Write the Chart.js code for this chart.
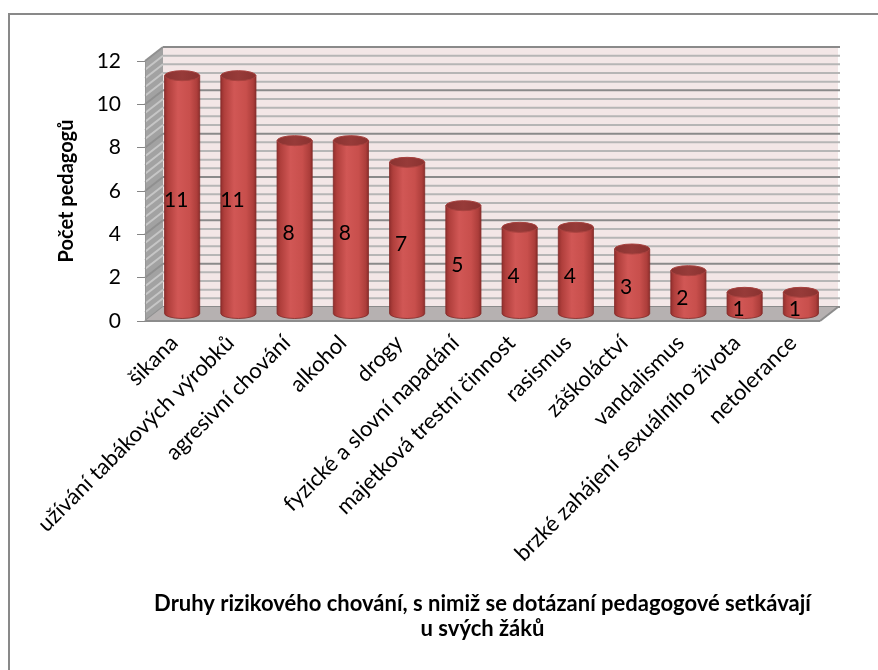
<!DOCTYPE html>
<html>
<head>
<meta charset="utf-8">
<script src="https://cdn.jsdelivr.net/npm/chart.js@4.4.1/dist/chart.umd.min.js"></script>
<style>
  html, body { margin: 0; padding: 0; background: #ffffff; }
  canvas { display: block; }
</style>
</head>
<body>
<canvas id="chart" width="878" height="670"></canvas>
<script>
// Categories of risky behaviour and how many teachers encounter each one
const categories = [
  'šikana',
  'užívání tabákových výrobků',
  'agresivní chování',
  'alkohol',
  'drogy',
  'fyzické a slovní napadání',
  'majetková trestní činnost',
  'rasismus',
  'záškoláctví',
  'vandalismus',
  'brzké zahájení sexuálního života',
  'netolerance'
];
const teacherCounts = [11, 11, 8, 8, 7, 5, 4, 4, 3, 2, 1, 1];

// Value axis ticks
const yMin = 0;
const yMax = 12;
const yStep = 2;
const yMinorStep = 0.4;

const yTitle = 'Počet pedagogů';
const xTitle = [
  'Druhy rizikového chování, s nimiž se dotázaní pedagogové setkávají',
  'u svých žáků'
];

const FONT = 'Lato';
const TICK_SIZE = 22;
const VALUE_SIZE = 21;
// depth offset of the back wall relative to the front plane
const DEPTH = { x: 18, y: -14 };

function line(ctx, x1, y1, x2, y2) {
  ctx.beginPath();
  ctx.moveTo(x1, y1);
  ctx.lineTo(x2, y2);
  ctx.stroke();
}

function drawCylinder(ctx, cx, top, bottom, rx, ry) {
  const body = ctx.createLinearGradient(cx - rx, 0, cx + rx, 0);
  body.addColorStop(0, '#93302E');
  body.addColorStop(0.1, '#B03F3C');
  body.addColorStop(0.38, '#D15755');
  body.addColorStop(0.72, '#C84F4C');
  body.addColorStop(0.92, '#AD3E3B');
  body.addColorStop(1, '#8E2E2C');
  ctx.beginPath();
  ctx.moveTo(cx - rx, top);
  ctx.lineTo(cx - rx, bottom);
  ctx.ellipse(cx, bottom, rx, ry, 0, Math.PI, 0, true);
  ctx.lineTo(cx + rx, top);
  ctx.closePath();
  ctx.fillStyle = body;
  ctx.fill();
  ctx.lineWidth = 1;
  ctx.strokeStyle = 'rgba(130,40,38,0.8)';
  ctx.stroke();

  const cap = ctx.createLinearGradient(cx - rx, 0, cx + rx, 0);
  cap.addColorStop(0, '#8A3331');
  cap.addColorStop(0.5, '#973B39');
  cap.addColorStop(1, '#8A3230');
  ctx.beginPath();
  ctx.ellipse(cx, top, rx, ry, 0, 0, Math.PI * 2);
  ctx.fillStyle = cap;
  ctx.fill();
  ctx.strokeStyle = '#A8423F';
  ctx.stroke();
}

const scene3d = {
  id: 'scene3d',
  beforeDraw(chart) {
    const ctx = chart.ctx;
    ctx.save();
    ctx.fillStyle = '#ffffff';
    ctx.fillRect(0, 0, chart.width, chart.height);
    ctx.strokeStyle = '#898989';
    ctx.lineWidth = 2;
    ctx.strokeRect(9, 14, chart.width + 20, chart.height + 20);
    ctx.restore();
  },
  beforeDatasetsDraw(chart) {
    const ctx = chart.ctx;
    const { left, right, top, bottom } = chart.chartArea;
    const ys = chart.scales.y;
    const bx = DEPTH.x, by = DEPTH.y;
    ctx.save();

    // back wall
    ctx.fillStyle = '#F3E7E7';
    ctx.fillRect(left + bx, top + by, right - left, bottom - top);

    // side wall
    ctx.beginPath();
    ctx.moveTo(left, top);
    ctx.lineTo(left + bx, top + by);
    ctx.lineTo(left + bx, bottom + by);
    ctx.lineTo(left, bottom);
    ctx.closePath();
    ctx.fillStyle = '#A2A2A2';
    ctx.fill();

    // gridlines on both walls
    const count = Math.round((yMax - yMin) / yMinorStep);
    for (let i = 0; i <= count; i++) {
      const v = yMin + i * yMinorStep;
      const r = v / yStep;
      const major = Math.abs(r - Math.round(r)) < 1e-6;
      const y = ys.getPixelForValue(v);
      ctx.lineWidth = 2;
      ctx.strokeStyle = major ? '#8A8A8A' : '#B6B6B6';
      line(ctx, left + bx, y + by, right + bx + 2, y + by);
      ctx.strokeStyle = major ? '#909090' : '#C6C6C6';
      line(ctx, left, y, left + bx, y + by);
    }

    // floor
    ctx.beginPath();
    ctx.moveTo(left, bottom);
    ctx.lineTo(left + bx, bottom + by);
    ctx.lineTo(right + bx, bottom + by);
    ctx.lineTo(right, bottom);
    ctx.closePath();
    ctx.fillStyle = '#B6B1B1';
    ctx.fill();

    ctx.lineWidth = 2;
    ctx.strokeStyle = '#8C8C8C';
    line(ctx, left, bottom, right, bottom);
    line(ctx, right, bottom, right + bx, bottom + by);
    ctx.lineWidth = 1;
    ctx.strokeStyle = '#959595';
    line(ctx, left + 0.5, top, left + 0.5, bottom);
    ctx.restore();
  },
  afterDatasetsDraw(chart) {
    const ctx = chart.ctx;
    const meta = chart.getDatasetMeta(0);
    const values = chart.data.datasets[0].data;
    ctx.save();
    meta.data.forEach((bar) => {
      const p = bar.getProps(['x', 'y', 'base', 'width'], true);
      drawCylinder(ctx, p.x + DEPTH.x / 2, p.y + DEPTH.y / 2, p.base + DEPTH.y / 2, p.width / 2, 5);
    });
    ctx.fillStyle = '#000000';
    ctx.font = VALUE_SIZE + 'px ' + FONT;
    ctx.textAlign = 'center';
    ctx.textBaseline = 'middle';
    meta.data.forEach((bar, i) => {
      const p = bar.getProps(['x', 'y', 'base'], true);
      ctx.fillText(String(values[i]), p.x + 3, (p.y + p.base) / 2 - 1);
    });
    ctx.restore();
  }
};

new Chart(document.getElementById('chart'), {
  type: 'bar',
  data: {
    labels: categories,
    datasets: [{
      data: teacherCounts,
      backgroundColor: 'rgba(0,0,0,0)',
      borderWidth: 0,
      categoryPercentage: 1,
      barPercentage: 0.625
    }]
  },
  options: {
    responsive: false,
    animation: false,
    devicePixelRatio: 1,
    events: [],
    layout: { padding: { left: 0, top: 61, right: 58, bottom: 0 } },
    plugins: {
      legend: { display: false },
      tooltip: { enabled: false }
    },
    scales: {
      x: {
        offset: true,
        grid: { display: false, drawTicks: false },
        border: { display: false },
        ticks: {
          autoSkip: false,
          minRotation: 45,
          maxRotation: 45,
          padding: 9,
          labelOffset: 1,
          color: '#000000',
          font: { family: FONT, size: TICK_SIZE }
        },
        title: {
          display: true,
          text: xTitle,
          color: '#000000',
          font: { family: FONT, size: 22, weight: 'bold', lineHeight: '25px' },
          padding: { top: 0, bottom: 29 }
        },
        afterFit(scale) { scale.height = 349; }
      },
      y: {
        min: yMin,
        max: yMax,
        grid: { drawOnChartArea: false, drawTicks: true, tickLength: 8, color: '#868686' },
        border: { display: false },
        ticks: {
          stepSize: yStep,
          padding: 16,
          color: '#000000',
          font: { family: FONT, size: 21 }
        },
        title: {
          display: true,
          text: yTitle,
          color: '#000000',
          font: { family: FONT, size: 20, weight: 'bold', lineHeight: 1.2 },
          padding: { top: 55, bottom: 0 }
        },
        afterFit(scale) { scale.width = 145; }
      }
    }
  },
  plugins: [scene3d]
});
</script>
</body>
</html>
